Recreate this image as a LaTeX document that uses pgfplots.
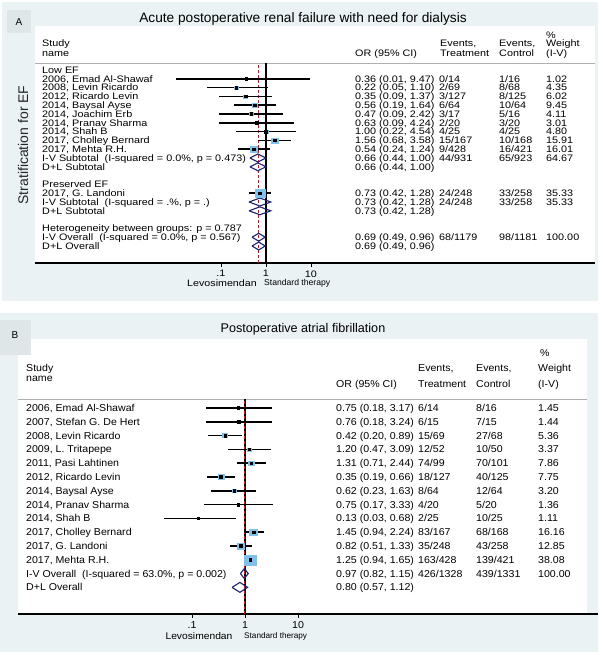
\documentclass[border=0pt]{standalone}
\usepackage{fontspec}
\setmainfont{Liberation Sans}
\newfontfamily\fontA[FakeStretch=1.15]{Liberation Sans}
\newfontfamily\fontB[FakeStretch=1.06]{Liberation Sans}
\usepackage{pgfplots}
\usepackage{pgfplotstable}
\pgfplotsset{compat=1.18}

\definecolor{panelbg}{RGB}{234,242,243}
\definecolor{labbox}{RGB}{222,230,232}
\definecolor{boxblue}{RGB}{128,192,234}
\definecolor{dmd}{RGB}{32,34,110}
\definecolor{refred}{RGB}{190,30,40}
\definecolor{hdrline}{RGB}{175,175,175}

% panel A: row (negative = top-down), OR, CI, weight
\pgfplotstableread{
row est lo hi w
-1 0.36 0.01 9.47 1.02
-2 0.22 0.05 1.10 4.35
-3 0.35 0.09 1.37 6.02
-4 0.56 0.19 1.64 9.45
-5 0.47 0.09 2.42 4.11
-6 0.63 0.09 4.24 3.01
-7 1.00 0.22 4.54 4.80
-8 1.56 0.68 3.58 15.91
-9 0.54 0.24 1.24 16.01
-14 0.73 0.42 1.28 35.33
}\studA

% panel B
\pgfplotstableread{
row est lo hi w
0 0.75 0.18 3.17 1.45
-1 0.76 0.18 3.24 1.44
-2 0.42 0.20 0.89 5.36
-3 1.20 0.47 3.09 3.37
-4 1.31 0.71 2.44 7.86
-5 0.35 0.19 0.66 7.75
-6 0.62 0.23 1.63 3.20
-7 0.75 0.17 3.33 1.36
-8 0.13 0.03 0.68 1.11
-9 1.45 0.94 2.24 16.16
-10 0.82 0.51 1.33 12.85
-11 1.25 0.94 1.65 38.08
}\studB

\tikzset{
  ta/.style={anchor=base west, inner sep=0pt, font=\fontA\fontsize{9.4}{10}\selectfont},
  tb/.style={anchor=base west, inner sep=0pt, font=\fontB\fontsize{10}{11}\selectfont},
}
% text rows: index, name, OR, treatment, control, weight
\newcommand\rowA[6]{%
  \node[ta] at (42,581.6-8.8*#1) {#2};
  \node[ta] at (355,581.6-8.8*#1) {#3};
  \node[ta] at (439,581.6-8.8*#1) {#4};
  \node[ta] at (499,581.6-8.8*#1) {#5};
  \node[ta] at (546,581.6-8.8*#1) {#6};}
\newcommand\rowB[6]{%
  \node[tb] at (26,243.4-13.8*#1) {#2};
  \node[tb] at (336,243.4-13.8*#1) {#3};
  \node[tb] at (418,243.4-13.8*#1) {#4};
  \node[tb] at (476,243.4-13.8*#1) {#5};
  \node[tb] at (538,243.4-13.8*#1) {#6};}

\begin{document}
\begin{tikzpicture}
\useasboundingbox (0pt,0pt) rectangle (602pt,655pt);
\begin{scope}[x=1pt,y=1pt]
\fill[white] (0,0) rectangle (602,655);
% panel backgrounds
\fill[panelbg] (2,354) rectangle (598,653);
\fill[white] (35,392) rectangle (595,629);
\fill[labbox] (7,622) rectangle (31,645);
\fill[panelbg] (0,3) rectangle (598,342);
\fill[white] (18,41) rectangle (587,316);
\fill[labbox] (0,300) rectangle (31,335);
\draw[hdrline, line width=0.6pt] (35,592) -- (595,592);
\draw[hdrline, line width=0.6pt] (18,256) -- (587,256);
\end{scope}

% ---------- panel A ----------
\begin{axis}[at={(35pt,392pt)}, anchor=south west,
  scale only axis, width=560pt, height=200pt,
  xmode=log, clip=false,
  xmin=7.36e-6, xmax=2.05e7, ymin=-21.93, ymax=0.795,
  axis x line*=bottom, axis y line=none,
  x axis line style={-, line width=1.3pt},
  xtick={0.1,1,10}, xticklabels={.1,1,10}, xminorticks=false,
  ytick=\empty,
  tick align=outside, major tick length=4pt,
  tick style={black, line width=0.8pt},
  xticklabel style={font=\fontA\fontsize{9.4}{10}\selectfont}]
\addplot[black, line width=1.3pt] coordinates {(1,-21.93) (1,0.795)};
\addplot[refred, line width=1pt, dash pattern=on 3pt off 2pt] coordinates {(0.69,-21.93) (0.69,0.795)};
\addplot[scatter, only marks, mark=square*, point meta=explicit,
  scatter/use mapped color={draw=boxblue, fill=boxblue},
  visualization depends on={0.67*sqrt(\thisrow{w}) \as \ms},
  scatter/@pre marker code/.append style={/tikz/mark size=\ms},
  mark options={xscale=1.25}] table[x=est, y=row, meta=w] {\studA};
\addplot[black, only marks, mark=square*, mark size=1.3pt,
  error bars/.cd, x dir=both, x explicit, error mark=none,
  error bar style={black, line width=1.5pt}]
  table[x=est, y=row,
  x error plus expr={\thisrow{hi}-\thisrow{est}},
  x error minus expr={\thisrow{est}-\thisrow{lo}}] {\studA};
\addplot[dmd, line width=1.1pt] coordinates {(0.44,-10) (0.66,-9.55) (1.00,-10) (0.66,-10.45) (0.44,-10)};
\addplot[dmd, line width=1.1pt] coordinates {(0.44,-11) (0.66,-10.55) (1.00,-11) (0.66,-11.45) (0.44,-11)};
\addplot[dmd, line width=1.1pt] coordinates {(0.42,-15) (0.73,-14.55) (1.28,-15) (0.73,-15.45) (0.42,-15)};
\addplot[dmd, line width=1.1pt] coordinates {(0.42,-16) (0.73,-15.55) (1.28,-16) (0.73,-16.45) (0.42,-16)};
\addplot[dmd, line width=1.1pt] coordinates {(0.49,-19) (0.69,-18.55) (0.96,-19) (0.69,-19.45) (0.49,-19)};
\addplot[dmd, line width=1.1pt] coordinates {(0.49,-20) (0.69,-19.55) (0.96,-20) (0.69,-20.45) (0.49,-20)};
\end{axis}

% ---------- panel B ----------
\begin{axis}[at={(18pt,41pt)}, anchor=south west,
  scale only axis, width=580pt, height=215pt,
  xmode=log, clip=false,
  xmin=5.21e-5, xmax=4.57e6, ymin=-14.93, ymax=0.652,
  axis x line*=bottom, axis y line=none,
  x axis line style={-, line width=1.3pt},
  xtick={0.1,1,10}, xticklabels={.1,1,10}, xminorticks=false,
  ytick=\empty,
  tick align=outside, major tick length=4pt,
  tick style={black, line width=0.8pt},
  xticklabel style={font=\fontB\fontsize{10}{11}\selectfont}]
\addplot[black, line width=1.3pt] coordinates {(1,-14.93) (1,0.652)};
\addplot[refred, line width=1pt, dash pattern=on 3pt off 2pt] coordinates {(0.97,-14.93) (0.97,0.652)};
\addplot[scatter, only marks, mark=square*, point meta=explicit,
  scatter/use mapped color={draw=boxblue, fill=boxblue},
  visualization depends on={0.82*sqrt(\thisrow{w}) \as \ms},
  scatter/@pre marker code/.append style={/tikz/mark size=\ms},
  mark options={xscale=1.25}] table[x=est, y=row, meta=w] {\studB};
\addplot[black, only marks, mark=square*, mark size=1.3pt,
  error bars/.cd, x dir=both, x explicit, error mark=none,
  error bar style={black, line width=1.7pt}]
  table[x=est, y=row,
  x error plus expr={\thisrow{hi}-\thisrow{est}},
  x error minus expr={\thisrow{est}-\thisrow{lo}}] {\studB};
\addplot[dmd, line width=1.1pt] coordinates {(0.82,-12) (0.97,-11.64) (1.15,-12) (0.97,-12.36) (0.82,-12)};
\addplot[dmd, line width=1.1pt] coordinates {(0.57,-13) (0.80,-12.64) (1.12,-13) (0.80,-13.36) (0.57,-13)};
\end{axis}

\begin{scope}[x=1pt,y=1pt]
% texts A
\node[font=\fontsize{10}{12}\selectfont] at (19,633) {A};
\node[font=\fontsize{13.7}{15}\selectfont] at (303,636) {Acute postoperative renal failure with need for dialysis};
\node[rotate=90, font=\fontsize{14}{16}\selectfont, black!85] at (23,510) {Stratification for EF};
\node[ta] at (42,608) {Study};
\node[ta] at (42,598.6) {name};
\node[ta] at (355,598.6) {OR (95\% CI)};
\node[ta] at (440,608) {Events,};
\node[ta] at (440,598.6) {Treatment};
\node[ta] at (499,608) {Events,};
\node[ta] at (499,598.6) {Control};
\node[ta] at (546,616.6) {\%};
\node[ta] at (546,608) {Weight};
\node[ta] at (546,598.6) {(I-V)};
\node[ta] at (42,581.6) {Low EF};
\rowA{1}{2006, Emad Al-Shawaf}{0.36 (0.01, 9.47)}{0/14}{1/16}{1.02}
\rowA{2}{2008, Levin Ricardo}{0.22 (0.05, 1.10)}{2/69}{8/68}{4.35}
\rowA{3}{2012, Ricardo Levin}{0.35 (0.09, 1.37)}{3/127}{8/125}{6.02}
\rowA{4}{2014, Baysal Ayse}{0.56 (0.19, 1.64)}{6/64}{10/64}{9.45}
\rowA{5}{2014, Joachim Erb}{0.47 (0.09, 2.42)}{3/17}{5/16}{4.11}
\rowA{6}{2014, Pranav Sharma}{0.63 (0.09, 4.24)}{2/20}{3/20}{3.01}
\rowA{7}{2014, Shah B}{1.00 (0.22, 4.54)}{4/25}{4/25}{4.80}
\rowA{8}{2017, Cholley Bernard}{1.56 (0.68, 3.58)}{15/167}{10/168}{15.91}
\rowA{9}{2017, Mehta R.H.}{0.54 (0.24, 1.24)}{9/428}{16/421}{16.01}
\rowA{10}{I-V Subtotal\ \ (I-squared = 0.0\%, p = 0.473)}{0.66 (0.44, 1.00)}{44/931}{65/923}{64.67}
\rowA{11}{D+L Subtotal}{0.66 (0.44, 1.00)}{}{}{}
\rowA{13}{Preserved EF}{}{}{}{}
\rowA{14}{2017, G. Landoni}{0.73 (0.42, 1.28)}{24/248}{33/258}{35.33}
\rowA{15}{I-V Subtotal\ \ (I-squared = .\%, p = .)}{0.73 (0.42, 1.28)}{24/248}{33/258}{35.33}
\rowA{16}{D+L Subtotal}{0.73 (0.42, 1.28)}{}{}{}
\rowA{18}{Heterogeneity between groups: p = 0.787}{}{}{}{}
\rowA{19}{I-V Overall\ \ (I-squared = 0.0\%, p = 0.567)}{0.69 (0.49, 0.96)}{68/1179}{98/1181}{100.00}
\rowA{20}{D+L Overall}{0.69 (0.49, 0.96)}{}{}{}
\node[font=\fontA\fontsize{9.3}{10}\selectfont] at (222,372) {Levosimendan};
\node[anchor=west, inner sep=0pt, font=\fontsize{8.6}{10}\selectfont] at (264,372) {Standard therapy};

% texts B
\node[font=\fontsize{10}{12}\selectfont] at (15,320) {B};
\node[font=\fontsize{12.6}{14}\selectfont] at (303,326) {Postoperative atrial fibrillation};
\node[tb] at (26,283.4) {Study};
\node[tb] at (26,273.4) {name};
\node[tb] at (336,267.4) {OR (95\% CI)};
\node[tb] at (418,283.4) {Events,};
\node[tb] at (418,267.4) {Treatment};
\node[tb] at (476,283.4) {Events,};
\node[tb] at (476,267.4) {Control};
\node[tb] at (540,298.4) {\%};
\node[tb] at (538,283.4) {Weight};
\node[tb] at (538,267.4) {(I-V)};
\rowB{0}{2006, Emad Al-Shawaf}{0.75 (0.18, 3.17)}{6/14}{8/16}{1.45}
\rowB{1}{2007, Stefan G. De Hert}{0.76 (0.18, 3.24)}{6/15}{7/15}{1.44}
\rowB{2}{2008, Levin Ricardo}{0.42 (0.20, 0.89)}{15/69}{27/68}{5.36}
\rowB{3}{2009, L. Tritapepe}{1.20 (0.47, 3.09)}{12/52}{10/50}{3.37}
\rowB{4}{2011, Pasi Lahtinen}{1.31 (0.71, 2.44)}{74/99}{70/101}{7.86}
\rowB{5}{2012, Ricardo Levin}{0.35 (0.19, 0.66)}{18/127}{40/125}{7.75}
\rowB{6}{2014, Baysal Ayse}{0.62 (0.23, 1.63)}{8/64}{12/64}{3.20}
\rowB{7}{2014, Pranav Sharma}{0.75 (0.17, 3.33)}{4/20}{5/20}{1.36}
\rowB{8}{2014, Shah B}{0.13 (0.03, 0.68)}{2/25}{10/25}{1.11}
\rowB{9}{2017, Cholley Bernard}{1.45 (0.94, 2.24)}{83/167}{68/168}{16.16}
\rowB{10}{2017, G. Landoni}{0.82 (0.51, 1.33)}{35/248}{43/258}{12.85}
\rowB{11}{2017, Mehta R.H.}{1.25 (0.94, 1.65)}{163/428}{139/421}{38.08}
\rowB{12}{I-V Overall\ \ (I-squared = 63.0\%, p = 0.002)}{0.97 (0.82, 1.15)}{426/1328}{439/1331}{100.00}
\rowB{13}{D+L Overall}{0.80 (0.57, 1.12)}{}{}{}
\node[font=\fontB\fontsize{9.7}{11}\selectfont] at (199,19) {Levosimendan};
\node[anchor=west, inner sep=0pt, font=\fontsize{8.2}{10}\selectfont] at (244,19) {Standard therapy};
\end{scope}
\end{tikzpicture}
\end{document}
